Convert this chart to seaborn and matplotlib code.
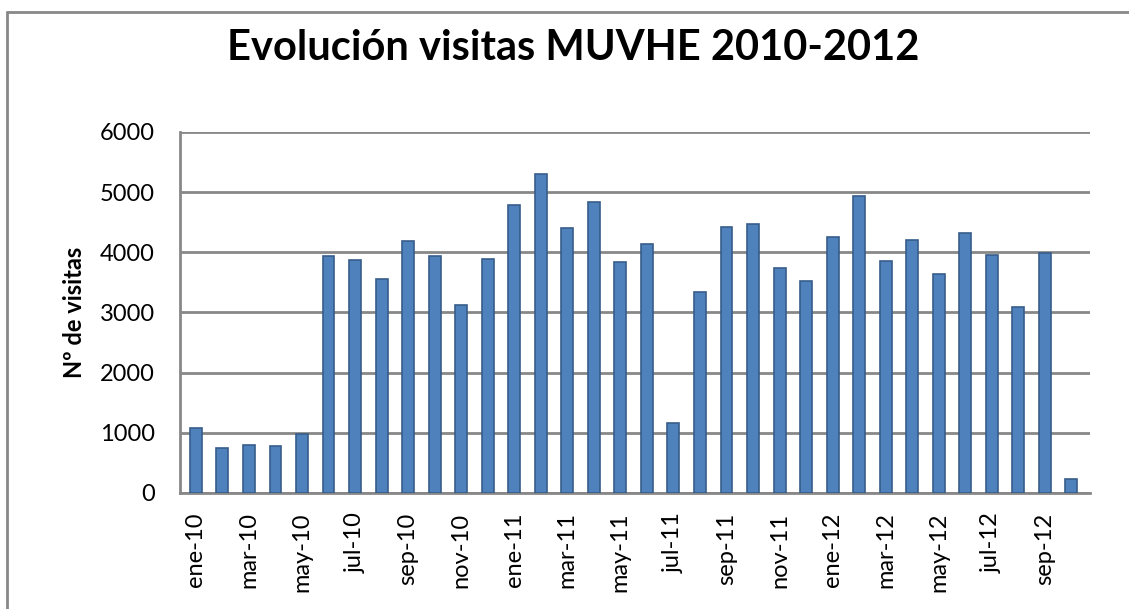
import pandas as pd
import seaborn as sns
import matplotlib.pyplot as plt
from matplotlib.lines import Line2D

meses = ['ene', 'feb', 'mar', 'abr', 'may', 'jun', 'jul', 'ago', 'sep', 'oct', 'nov', 'dic']
anios = ['10', '11', '12']
visitas = [1080, 750, 800, 785, 980, 3940, 3870, 3550, 4190, 3930, 3120, 3880,
           4790, 5300, 4400, 4840, 3830, 4130, 1160, 3340, 4420, 4470, 3730, 3520,
           4260, 4940, 3860, 4210, 3630, 4320, 3950, 3090, 3990, 230]
yticks = [0, 1000, 2000, 3000, 4000, 5000, 6000]

etiquetas = [f'{m}-{a}' for a in anios for m in meses][:len(visitas)]
df = pd.DataFrame({'mes': etiquetas, 'visitas': visitas})

sns.set_style('white')
plt.rcParams['font.family'] = ['Lato', 'DejaVu Sans']
plt.rcParams['text.color'] = 'black'
plt.rcParams['axes.labelcolor'] = 'black'
plt.rcParams['xtick.color'] = 'black'
plt.rcParams['ytick.color'] = 'black'

fig = plt.figure(figsize=(11.29, 6.09), dpi=100)
ax = fig.add_axes([0.1594, 0.1905, 0.806, 0.593])

sns.barplot(data=df, x='mes', y='visitas', color='#4F81BD', width=0.45,
            edgecolor='#385D8A', linewidth=1.2, saturation=1, ax=ax, zorder=3)

ax.set_ylim(0, 6000)
ax.set_xlim(-0.6, 33.7)
ax.set_yticks(yticks)
ax.set_yticklabels([str(v) for v in yticks], fontsize=17)
ax.yaxis.grid(True, color='#888888', linewidth=2)
ax.set_axisbelow(True)

pos = list(range(0, len(etiquetas), 2))
ax.set_xticks(pos)
ax.set_xticklabels([etiquetas[i] for i in pos], rotation=90, fontsize=17)
ax.tick_params(axis='y', length=0, pad=18)
ax.tick_params(axis='x', length=0, pad=14)

ax.set_xlabel('')
ax.set_ylabel('Nº de visitas', fontsize=17, fontweight='bold', labelpad=10)

for s in ['top', 'right']:
    ax.spines[s].set_visible(False)
for s in ['left', 'bottom']:
    ax.spines[s].set_color('#888888')
    ax.spines[s].set_linewidth(2)

fig.text(0.508, 0.922, 'Evolución visitas MUVHE 2010-2012', ha='center', va='center',
         fontsize=30, fontweight='bold')

# borde del área del gráfico
fig.add_artist(Line2D([0.006, 1.0], [0.980, 0.980], color='#888888', linewidth=2))
fig.add_artist(Line2D([0.006, 0.006], [0.0, 0.980], color='#888888', linewidth=2))

fig.savefig('out.png', dpi=100)
